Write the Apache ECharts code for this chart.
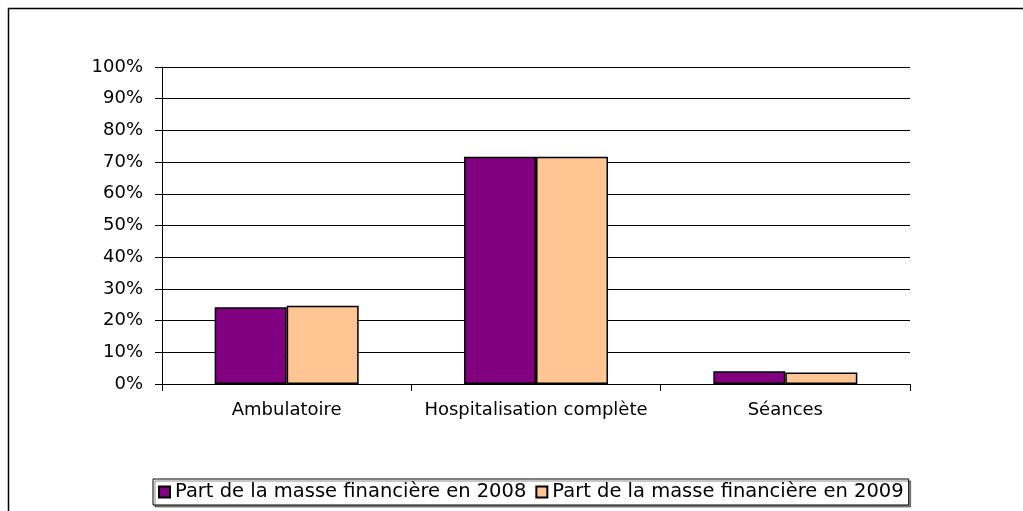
<!DOCTYPE html>
<html>
<head>
<meta charset="utf-8">
<script src="https://cdn.jsdelivr.net/npm/echarts@6/dist/echarts.min.js"></script>
<style>
  html, body { margin: 0; padding: 0; background: #fff; }
  #chart { width: 1023px; height: 511px; }
</style>
</head>
<body>
<div id="chart"></div>
<script>
// catégories et parts (en %)
const categories = ['Ambulatoire', 'Hospitalisation complète', 'Séances']
const part2008 = [24.2, 71.7, 4.0]
const part2009 = [24.7, 71.7, 3.6]
const seriesNames = ['Part de la masse financière en 2008', 'Part de la masse financière en 2009']

const FONT = 'DejaVu Sans, Verdana, sans-serif'
const myChart = echarts.init(document.getElementById('chart'))

const option = {
    animation: false,
    textStyle: { fontFamily: FONT },
    graphic: [
        {
            // cadre extérieur
            type: 'rect',
            shape: { x: 8.5, y: 8.5, width: 1100, height: 600 },
            style: { fill: 'none', stroke: '#000', lineWidth: 1.5 },
            silent: true
        }
    ],
    grid: {
        left: 162,
        right: 113,
        top: 67,
        bottom: 127
    },
    legend: {
        left: 153,
        top: 479,
        padding: [3, 5, 3, 5],
        itemGap: 9,
        itemWidth: 11,
        itemHeight: 11,
        itemTextGap: 5,
        borderColor: '#000',
        borderWidth: 1,
        borderRadius: 0,
        backgroundColor: '#fff',
        shadowColor: 'rgba(0,0,0,0.45)',
        shadowOffsetX: 2,
        shadowOffsetY: 2,
        shadowBlur: 0,
        icon: 'rect',
        textStyle: { fontSize: 19.5, color: '#000', fontFamily: FONT },
        data: seriesNames
    },
    xAxis: {
        type: 'category',
        data: categories,
        axisLine: { lineStyle: { color: '#000', width: 1 } },
        axisTick: { show: true, interval: 0, length: 7, lineStyle: { color: '#000' } },
        axisLabel: { color: '#000', fontSize: 18, margin: 17, interval: 0, fontFamily: FONT }
    },
    yAxis: {
        type: 'value',
        min: 0,
        max: 100,
        interval: 10,
        axisLine: { show: true, lineStyle: { color: '#000', width: 1 } },
        axisTick: { show: true, length: 7, lineStyle: { color: '#000' } },
        axisLabel: {
            color: '#000',
            fontSize: 18,
            margin: 19,
            fontFamily: FONT,
            formatter: '{value}%'
        },
        splitLine: { lineStyle: { color: '#000', width: 1 } }
    },
    series: [
        {
            name: seriesNames[0],
            type: 'bar',
            data: part2008,
            barWidth: 72,
            barGap: '0%',
            itemStyle: { color: '#800080', borderColor: '#000', borderWidth: 1.5 }
        },
        {
            name: seriesNames[1],
            type: 'bar',
            data: part2009,
            barWidth: 72,
            barGap: '0%',
            itemStyle: { color: '#ffc593', borderColor: '#000', borderWidth: 1.5 }
        }
    ]
}
myChart.setOption(option)
</script>
</body>
</html>
